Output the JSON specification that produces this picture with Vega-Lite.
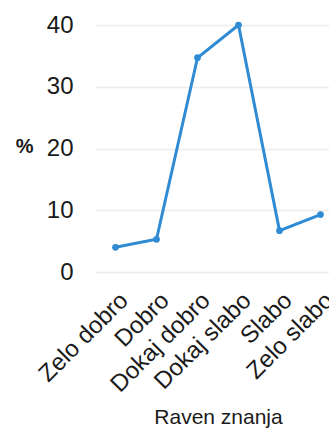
{
  "$schema": "https://vega.github.io/schema/vega-lite/v6.json",
  "width": 246,
  "height": 247,
  "padding": {"top": 13, "left": 15, "right": 0, "bottom": 0},
  "background": "white",
  "config": {
    "view": {"stroke": null},
    "font": "Liberation Sans",
    "axis": {"labelColor": "#1a1a1a", "titleColor": "#1a1a1a", "labelFont": "Liberation Sans", "titleFont": "Liberation Sans"}
  },
  "data": {
    "values": [
      {"raven": "Zelo dobro", "pct": 4.0},
      {"raven": "Dobro", "pct": 5.3},
      {"raven": "Dokaj dobro", "pct": 34.7},
      {"raven": "Dokaj slabo", "pct": 40.0},
      {"raven": "Slabo", "pct": 6.7},
      {"raven": "Zelo slabo", "pct": 9.3}
    ]
  },
  "encoding": {
    "x": {
      "field": "raven", "type": "nominal", "sort": null,
      "scale": {"type": "point", "padding": 0.5},
      "axis": {
        "title": "Raven znanja", "titleFontSize": 21, "titleFontWeight": "normal", "titlePadding": 10,
        "labelAngle": -45, "labelFontSize": 24, "labelPadding": 16, "labelOffset": 0,
        "domain": false, "ticks": false, "grid": false
      }
    },
    "y": {
      "field": "pct", "type": "quantitative",
      "scale": {"domain": [0, 40]},
      "axis": {
        "title": "%", "titleAngle": 0, "titleFontSize": 20, "titleFontWeight": "bold",
        "titleAlign": "right", "titleBaseline": "middle", "titleX": -62, "titleY": 121,
        "values": [0, 10, 20, 30, 40], "labelFontSize": 24, "labelPadding": 22,
        "domain": false, "ticks": false, "grid": true, "gridColor": "#ececec", "gridWidth": 1.5
      }
    }
  },
  "mark": {"type": "line", "color": "#2f8bd3", "strokeWidth": 3, "point": {"filled": true, "size": 45, "color": "#2f8bd3"}}
}
